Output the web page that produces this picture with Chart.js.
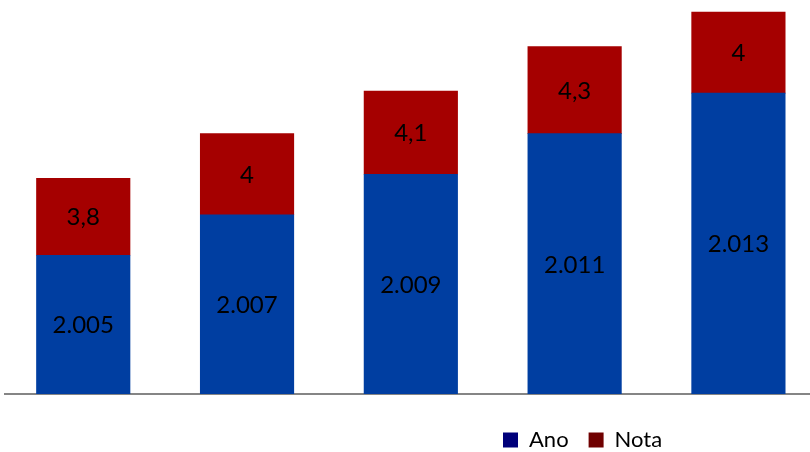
<!DOCTYPE html>
<html>
<head>
<meta charset="utf-8">
<script src="https://cdn.jsdelivr.net/npm/chart.js@4/dist/chart.umd.min.js"></script>
<style>
  html, body { margin: 0; padding: 0; background: #fff; }
  #wrap { width: 810px; height: 452px; }
</style>
</head>
<body>
<div id="wrap"><canvas id="c" width="810" height="452"></canvas></div>
<script>
// Series
const categories = ['2005', '2007', '2009', '2011', '2013'];
const ano = [2005, 2007, 2009, 2011, 2013];
const nota = [3.8, 4, 4.1, 4.3, 4];
const seriesNames = ['Ano', 'Nota'];

// Number format: thousands with '.', decimals with ','
function fmtBR(v) {
  const parts = String(v).split('.');
  const intPart = parts[0].replace(/\B(?=(\d{3})+(?!\d))/g, '.');
  return parts.length > 1 ? intPart + ',' + parts[1] : intPart;
}

const FONT = 'Lato, "Liberation Sans", sans-serif';

// Value labels centred inside the visible part of each stacked segment
const segmentLabels = {
  id: 'segmentLabels',
  afterDatasetsDraw(chart) {
    const ctx = chart.ctx;
    const area = chart.chartArea;
    ctx.save();
    ctx.font = '24px ' + FONT;
    ctx.fillStyle = '#000';
    ctx.textAlign = 'center';
    ctx.textBaseline = 'middle';
    chart.data.datasets.forEach((ds, di) => {
      const meta = chart.getDatasetMeta(di);
      meta.data.forEach((bar, i) => {
        const p = bar.getProps(['x', 'y', 'base'], true);
        const top = Math.max(p.y, area.top);
        const bottom = Math.min(p.base, area.bottom);
        ctx.fillText(fmtBR(ds.data[i].y), p.x, (top + bottom) / 2 + 1);
      });
    });
    ctx.restore();
  }
};

// Legend sits at the lower right, below the axis line
const legendOffset = {
  id: 'legendOffset',
  afterLayout(chart) {
    const lg = chart.legend;
    if (!lg) return;
    const dx = 478, dy = 15;
    lg.left += dx; lg.right += dx;
    lg.top += dy; lg.bottom += dy;
  }
};

const legendColors = ['#00007a', '#700000'];

new Chart(document.getElementById('c'), {
  type: 'bar',
  data: {
    datasets: [
      {
        label: seriesNames[0],
        data: ano.map((v, i) => ({ x: i, y: v })),
        backgroundColor: '#003ea1',
        stack: 's'
      },
      {
        label: seriesNames[1],
        data: nota.map((v, i) => ({ x: i, y: v })),
        backgroundColor: '#a50000',
        stack: 's'
      }
    ]
  },
  options: {
    responsive: false,
    animation: false,
    devicePixelRatio: 1,
    layout: { padding: { left: 5, right: 0, top: 0, bottom: 6 } },
    datasets: {
      bar: { barThickness: 93.5 }
    },
    scales: {
      x: {
        type: 'linear',
        offset: false,
        min: -0.4777,
        max: 4.437,
        stacked: true,
        grid: { display: false },
        ticks: { display: false },
        border: { display: true, color: '#858585', width: 2 },
        afterFit(scale) { scale.height = 0; }
      },
      y: {
        display: false,
        stacked: true,
        min: 1998.15,
        max: 2017.6
      }
    },
    plugins: {
      tooltip: { enabled: false },
      legend: {
        position: 'bottom',
        align: 'start',
        labels: {
          font: { family: FONT, size: 22 },
          color: '#1a1a1a',
          boxWidth: 15,
          boxHeight: 15,
          padding: 20,
          generateLabels(chart) {
            return chart.data.datasets.map((ds, i) => ({
              text: ds.label,
              fillStyle: legendColors[i],
              strokeStyle: legendColors[i],
              lineWidth: 0,
              datasetIndex: i
            }));
          }
        }
      }
    }
  },
  plugins: [segmentLabels, legendOffset]
});
</script>
</body>
</html>
